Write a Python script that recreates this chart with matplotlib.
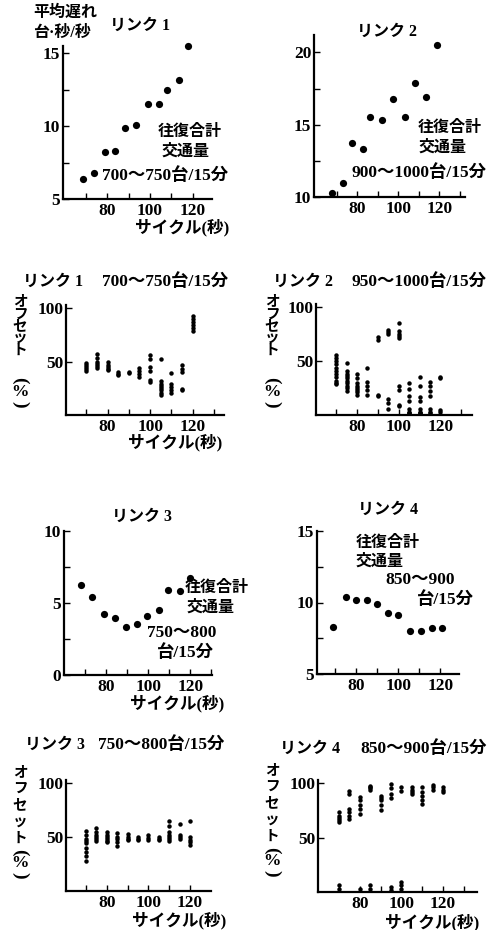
import matplotlib
matplotlib.use('Agg')
import matplotlib.pyplot as plt

W, H = 496, 930
fig = plt.figure(figsize=(W / 100, H / 100), dpi=100)

JP = ['Liberation Serif', 'Noto Sans CJK JP']
NUM = ['Liberation Serif']

# ---------------- data ----------------
# average delay (台·秒/秒) vs cycle (秒)
cyc1 = [68.5, 74, 79, 83.5, 88.5, 93.5, 99, 104, 108, 113.5, 118]
delay1 = [6.4, 6.8, 8.2, 8.3, 9.9, 10.1, 11.5, 11.5, 12.5, 13.2, 15.5]
cyc2 = [68, 73, 77.5, 83, 86.5, 92, 97.5, 103.5, 108, 113.5, 119]
delay2 = [10.3, 10.95, 13.7, 13.3, 15.5, 15.3, 16.8, 15.5, 17.9, 16.9, 20.5]
cyc3 = [68, 73.5, 79, 84, 89.5, 94.5, 99.5, 105, 109.5, 115, 120]
delay3 = [6.25, 5.45, 4.25, 3.95, 3.35, 3.55, 4.1, 4.5, 5.9, 5.8, 6.75]
cyc4 = [69, 75, 80, 85, 90, 95, 100, 105.5, 111, 116, 120.5]
delay4 = [8.3, 10.4, 10.15, 10.15, 9.9, 9.25, 9.1, 8.0, 8.0, 8.25, 8.2]

# offset (%) clusters per cycle
off_cycles = [70, 75, 80, 85, 90, 95, 100, 105, 110, 115, 120]
offset1 = [[49, 47, 45, 43, 41], [57, 53, 50, 48, 46, 44], [50, 47, 45, 43, 42],
           [40, 38, 37], [40, 39], [44, 41, 38, 36], [56, 52, 45, 41, 33, 31],
           [52, 32, 29, 27, 25, 23, 21, 19], [39, 29, 26, 23, 21],
           [47, 43, 40, 24, 23], [93, 90, 87, 84, 81, 79]]
offset2 = [[56, 53, 50, 47, 44, 41, 38, 35, 32, 30, 29],
           [48, 41, 38, 36, 34, 32, 30, 27, 25, 22],
           [38, 34, 30, 27, 25, 23, 21, 19], [44, 31, 27, 23, 19],
           [72, 70, 19, 18], [79, 77, 75, 15, 11, 6],
           [85, 78, 75, 73, 71, 27, 23, 9, 8], [30, 24, 18, 13, 6, 3, 2, 2],
           [35, 27, 17, 13, 6, 3, 2, 2], [31, 27, 22, 18, 6, 3, 2], [35, 34, 5, 3]]
offset3 = [[56, 52, 48, 46, 44, 40, 36, 32, 28], [58, 55, 52, 50, 48, 46],
           [55, 52, 50, 48, 46, 45], [54, 50, 48, 45, 42], [53, 50, 48, 47],
           [50, 48, 47], [52, 49, 47], [50, 48, 47], [65, 60, 55, 52, 50, 48, 46],
           [62, 52, 50, 48], [65, 50, 47, 45, 43]]
offset4 = [[73, 70, 68, 66, 64, 6, 3], [93, 90, 76, 73, 70, 67],
           [87, 84, 80, 76, 72, 3], [97, 96, 95, 94, 6, 3], [88, 86, 84, 80, 75],
           [99, 95, 90, 86, 5, 2], [96, 93, 9, 6, 3], [96, 94, 92, 90],
           [96, 92, 88, 84, 81], [98, 96, 94], [96, 94, 92]]

xlabel = 'サイクル(秒)'
JSZ = 11.5   # pure Japanese text
MSZ = 12.5   # mixed digits / Japanese text


def add_ax(x0, x1, ytop, ybot, xlim, ylim, yticks, yminor=()):
    ax = fig.add_axes([x0 / W, 1 - ybot / H, (x1 - x0) / W, (ybot - ytop) / H])
    ax.set_xlim(xlim)
    ax.set_ylim(ylim)
    for s in ['top', 'right']:
        ax.spines[s].set_visible(False)
    for s in ['left', 'bottom']:
        ax.spines[s].set_linewidth(1.6)
    ax.set_xticks([80, 100, 120])
    ax.set_xticks([t for t in (70, 90, 110, 130) if t < xlim[1]], minor=True)
    ax.set_yticks(yticks)
    ax.set_yticks(list(yminor), minor=True)
    ax.tick_params(which='both', direction='in', length=4, width=1.0)
    ax.tick_params(axis='x', pad=3)
    ax.tick_params(axis='y', pad=2)
    for lab in ax.get_xticklabels() + ax.get_yticklabels():
        lab.set_family(NUM)
        lab.set_weight('bold')
        lab.set_size(12.5)
    return ax


def ftext(x, y, s, size=JSZ, ha='left', va='center', **kw):
    fig.text(x / W, 1 - y / H, s, family=JP, size=size, ha=ha, va=va,
             weight='bold', **kw)


def stack_label(x, ys):
    chars = ['オ', 'フ', 'セ', 'ッ', 'ト']
    for yy, c in zip(ys[:5], chars):
        ftext(x, yy, c, size=10.5, ha='center')
    ftext(x, ys[5], '(', size=14, ha='center', rotation=-90,
          rotation_mode='anchor')
    ftext(x, ys[6], '%', size=12.5, ha='center')
    ftext(x, ys[7], ')', size=14, ha='center', rotation=-90,
          rotation_mode='anchor')


def offsets(ax, cyc, vals):
    xs, ys = [], []
    for c, vv in zip(cyc, vals):
        for v in vv:
            xs.append(c)
            ys.append(v)
    ax.plot(xs, ys, 'o', color='black', ms=3.2, mew=0, clip_on=False)


def delays(ax, cyc, vals):
    ax.plot(cyc, vals, 'o', color='black', ms=5.2, mew=0, clip_on=False)


# ---------------- panel 1: link 1 delay ----------------
ax1 = add_ax(63, 212, 46, 199, (59.3, 129), (5, 15.5), [5, 10, 15], [7.5, 12.5])
delays(ax1, cyc1, delay1)
ftext(33, 13, '平均遅れ')
ftext(33, 33, '台·秒/秒')
ftext(140, 26, 'リンク 1', ha='center')
ftext(158, 132, '往復合計')
ftext(162, 152, '交通量')
ftext(102, 176, '700～750台/15分', size=MSZ)
ftext(182, 228, xlabel, size=12, ha='center')

# ---------------- panel 2: link 2 delay ----------------
ax2 = add_ax(314, 465, 35, 197, (59, 132.5), (10, 21.2), [10, 15, 20], [12.5, 17.5])
delays(ax2, cyc2, delay2)
ftext(387, 32, 'リンク 2', ha='center')
ftext(418, 128, '往復合計')
ftext(419, 148, '交通量')
ftext(352, 173, '900～1000台/15分', size=MSZ)

# ---------------- panel 3: link 1 offsets ----------------
ax3 = add_ax(66, 224, 305, 415, (60.5, 134.7), (0, 103), [50, 100])
offsets(ax3, off_cycles, offset1)
ftext(23, 282, 'リンク 1')
ftext(102, 282, '700～750台/15分', size=MSZ)
stack_label(20, [302, 315, 327, 339, 351, 380, 392, 404])
ftext(175, 443, xlabel, size=12, ha='center')

# ---------------- panel 4: link 2 offsets ----------------
ax4 = add_ax(316, 472, 304, 415, (60.3, 135.2), (0, 103), [50, 100])
offsets(ax4, off_cycles, offset2)
ftext(273, 282, 'リンク 2')
ftext(352, 282, '950～1000台/15分', size=MSZ)
stack_label(272, [302, 315, 327, 339, 351, 380, 392, 404])

# ---------------- panel 5: link 3 delay ----------------
ax5 = add_ax(64, 212, 531, 675, (60, 130.3), (0, 10), [0, 5, 10], [2.5, 7.5])
delays(ax5, cyc3, delay3)
ftext(142, 517, 'リンク 3', ha='center')
ftext(185, 588, '往復合計')
ftext(187, 608, '交通量')
ftext(147, 633, '750～800', size=MSZ)
ftext(157, 653, '台/15分', size=MSZ)
ftext(177, 704, xlabel, size=12, ha='center')

# ---------------- panel 6: link 4 delay ----------------
ax6 = add_ax(317, 459, 531, 674, (61.4, 128.8), (5, 15), [5, 10, 15], [7.5, 12.5])
delays(ax6, cyc4, delay4)
ftext(388, 510, 'リンク 4', ha='center')
ftext(356, 543, '往復合計')
ftext(356, 562, '交通量')
ftext(385, 580, '850～900', size=MSZ)
ftext(417, 600, '台/15分', size=MSZ)

# ---------------- panel 7: link 3 offsets ----------------
ax7 = add_ax(66, 211, 780, 891, (60.5, 130), (0, 102.8), [50, 100])
offsets(ax7, off_cycles, offset3)
ftext(25, 745, 'リンク 3')
ftext(98, 745, '750～800台/15分', size=MSZ)
stack_label(20, [773, 789, 806, 823, 839, 852, 863, 875])
ftext(179, 921, xlabel, size=12, ha='center')

# ---------------- panel 8: link 4 offsets ----------------
ax8 = add_ax(318, 477, 780, 892, (60, 136.3), (0, 102.8), [50, 100])
offsets(ax8, off_cycles, offset4)
ftext(280, 749, 'リンク 4')
ftext(360, 749, '850～900台/15分', size=MSZ)
stack_label(272, [771, 787, 804, 821, 837, 850, 861, 873])
ftext(432, 923, xlabel, size=12, ha='center')

fig.savefig('out.png', dpi=100)
